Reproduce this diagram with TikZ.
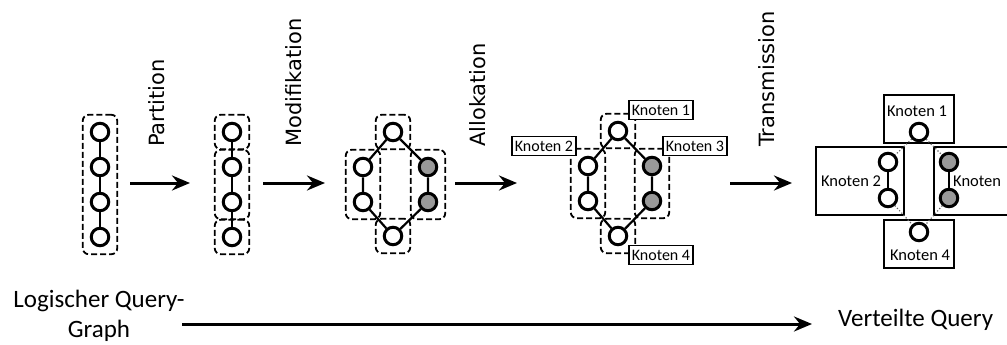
\documentclass[tikz,border=0pt]{standalone}
\usepackage{fontspec}
\setmainfont{Carlito}
\newfontfamily\stepfont{DejaVu Sans}
\usetikzlibrary{shapes, arrows.meta, fit}
\tikzstyle{vertex} = [circle, draw, line width=3pt, minimum size=17.5pt, inner sep=0pt, fill=white]
\tikzstyle{greyvertex} = [vertex, fill=black!40]
\tikzstyle{part} = [rectangle, draw, line width=1.8pt, dash pattern=on 6pt off 3pt, rounded corners=6pt, inner sep=7pt]
\tikzstyle{tag} = [rectangle, draw, line width=1.5pt, fill=white, inner xsep=3pt, minimum height=19pt, font=\fontsize{16}{16}\selectfont]
\tikzstyle{host} = [rectangle, draw, line width=2pt, fill=white]
\tikzstyle{hostname} = [inner sep=0pt, font=\fontsize{16.5}{16.5}\selectfont]
\tikzstyle{link} = [line width=2.2pt]
\tikzstyle{remote} = [line width=1.2pt, dotted, black!60]
\tikzstyle{arrow} = [line width=3pt, -{Stealth[length=18pt, width=15pt, inset=6pt]}]
\tikzstyle{phase} = [rotate=90, anchor=west, inner sep=0pt, font=\stepfont\fontsize{21}{21}\selectfont]
\tikzstyle{caption} = [align=center, inner sep=0pt, font=\fontsize{25}{30}\selectfont]

\begin{document}
\begin{tikzpicture}[x=1pt, y=-1pt, node distance=35pt]
\useasboundingbox (0,0) rectangle (1007,345);

% logischer Query-Graph
\node(l1) [vertex] at (100,132) {};
\node(l2) [vertex, below of=l1] {};
\node(l3) [vertex, below of=l2] {};
\node(l4) [vertex, below of=l3] {};
\draw[link] (l1) -- (l2) -- (l3) -- (l4);
\node(lbox) [part, fit=(l1)(l4)] {};

% Partition
\node(p1) [vertex] at (232,132) {};
\node(p2) [vertex, below of=p1] {};
\node(p3) [vertex, below of=p2] {};
\node(p4) [vertex, below of=p3] {};
\draw[link] (p1) -- (p2) -- (p3) -- (p4);
\node(pbox1) [part, fit=(p1)] {};
\node(pbox2) [part, fit=(p2)(p3)] {};
\node(pbox3) [part, fit=(p4)] {};

% Modifikation
\node(m1) [vertex] at (393,132) {};
\node(m2) [vertex] at (363,167) {};
\node(m3) [vertex, below of=m2] {};
\node(m4) [greyvertex] at (428,167) {};
\node(m5) [greyvertex, below of=m4] {};
\node(m6) [vertex] at (393,236) {};
\draw[link] (m1) -- (m2) -- (m3) -- (m6) -- (m5) -- (m4) -- (m1);
\node(mbox1) [part, fit=(m1)] {};
\node(mbox2) [part, fit=(m2)(m3)] {};
\node(mbox3) [part, fit=(m4)(m5)] {};
\node(mbox4) [part, fit=(m6)] {};

% Allokation
\node(a1) [vertex] at (618,131) {};
\node(a2) [vertex] at (588,166) {};
\node(a3) [vertex, below of=a2] {};
\node(a4) [greyvertex] at (652,166) {};
\node(a5) [greyvertex, below of=a4] {};
\node(a6) [vertex] at (618,236) {};
\draw[link] (a1) -- (a2) -- (a3) -- (a6) -- (a5) -- (a4) -- (a1);
\node(abox1) [part, fit=(a1)] {};
\node(abox2) [part, fit=(a2)(a3)] {};
\node(abox3) [part, fit=(a4)(a5)] {};
\node(abox4) [part, fit=(a6)] {};
\node(k1) [tag] at (661,110) {Knoten 1};
\node(k2) [tag] at (544,146) {Knoten 2};
\node(k3) [tag] at (695,146) {Knoten 3};
\node(k4) [tag] at (661,255) {Knoten 4};

% Transmission
\node(h1) [host, minimum width=70pt, minimum height=48pt] at (919,119) {};
\node(h2) [host, minimum width=88pt, minimum height=68pt] at (860,181) {};
\node(h3) [host, minimum width=88pt, minimum height=68pt] at (978,181) {};
\node(h4) [host, minimum width=70pt, minimum height=48pt] at (919,244) {};
\node(n1) [hostname] at (917,111) {Knoten 1};
\node(n2) [hostname] at (851,181) {Knoten 2};
\node(n3) [hostname, anchor=west] at (953,181) {Knoten};
\node(n4) [hostname] at (920,255) {Knoten 4};
\node(t1) [vertex] at (919,132) {};
\node(t2) [vertex] at (888,162) {};
\node(t3) [vertex] at (888,198) {};
\node(t4) [greyvertex] at (949,162) {};
\node(t5) [greyvertex] at (949,198) {};
\node(t6) [vertex] at (919,232) {};
\draw[link] (t2) -- (t3);
\draw[link] (t4) -- (t5);
\draw[remote] (t1) -- (t2);
\draw[remote] (t1) -- (t4);
\draw[remote] (t3) -- (t6);
\draw[remote] (t5) -- (t6);

% Schritte
\coordinate(s1) at (130,183);
\coordinate(e1) at (190,183);
\coordinate(s2) at (263,183);
\coordinate(e2) at (325,183);
\coordinate(s3) at (455,183);
\coordinate(e3) at (517,183);
\coordinate(s4) at (730,183);
\coordinate(e4) at (792,183);
\draw[arrow] (s1) -- (e1);
\draw[arrow] (s2) -- (e2);
\draw[arrow] (s3) -- (e3);
\draw[arrow] (s4) -- (e4);
\node(partition) [phase] at (157,147) {Partition};
\node(modifikation) [phase] at (294,147) {Modifikation};
\node(allokation) [phase] at (478,147) {Allokation};
\node(transmission) [phase] at (767,147) {Transmission};

% Gesamtablauf
\node(logic) [caption] at (99,316) {Logischer Query-\\Graph};
\node(verteilt) [caption, anchor=west] at (838,320) {Verteilte Query};
\coordinate(q1) at (182,324);
\coordinate(q2) at (812,324);
\draw[arrow] (q1) -- (q2);
\end{tikzpicture}
\end{document}
